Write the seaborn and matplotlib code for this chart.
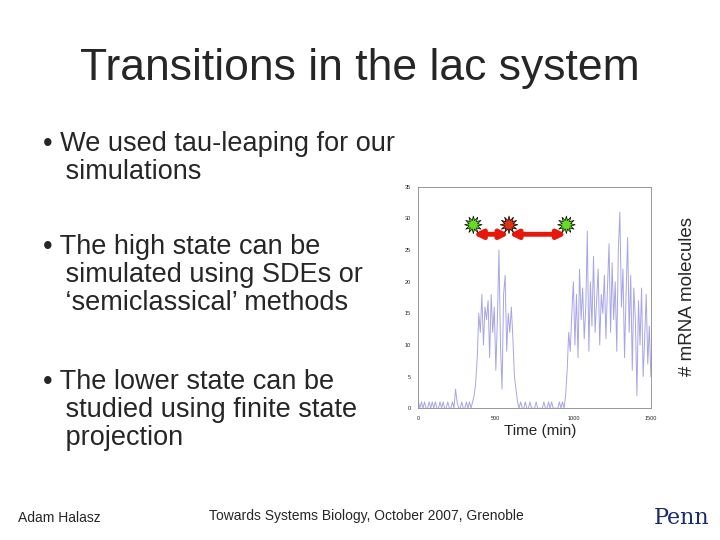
import matplotlib
matplotlib.use('Agg')
import matplotlib.pyplot as plt
import seaborn as sns

# mRNA trace, one sample every 10 min
time_min = list(range(0, 1510, 10))
mrna = [1, 0, 1, 0, 1, 0, 0, 1, 0, 1, 0, 1, 0, 0, 1, 0, 1, 0, 0, 1,
        0, 0, 1, 0, 3, 1, 0, 0, 1, 0, 0, 1, 0, 1, 0, 1, 2, 4, 8, 15,
        12, 18, 10, 16, 14, 17, 8, 18, 12, 16, 6, 14, 25, 10, 3, 18, 21, 9, 15, 12,
        16, 11, 5, 3, 1, 0, 1, 0, 0, 1, 0, 0, 1, 0, 0, 0, 1, 0, 0, 0,
        0, 1, 0, 0, 1, 0, 1, 0, 0, 0, 0, 1, 0, 1, 0, 2, 6, 12, 9, 15,
        20, 10, 18, 8, 22, 14, 19, 11, 16, 28, 9, 20, 13, 24, 12, 17, 22, 10, 18, 15,
        21, 11, 19, 26, 12, 23, 14, 20, 9, 25, 31, 16, 22, 8, 18, 27, 12, 21, 6, 19,
        14, 2, 17, 10, 19, 5, 11, 18, 7, 13, 5]
star_t = [355, 585, 955]
star_colors = ['#66dd22', '#dd3311', '#66dd22']
arrow_spans = [(355, 585), (585, 955)]

sns.set_style('white')
plt.rcParams['font.family'] = ['Liberation Sans', 'DejaVu Sans']
fig = plt.figure(figsize=(7.2, 5.4), dpi=100)

fig.text(0.5, 0.874, 'Transitions in the lac system', ha='center', va='center', fontsize=32)
bullets = [(0.757, '• We used tau-leaping for our\n   simulations'),
           (0.567, '• The high state can be\n   simulated using SDEs or\n   ‘semiclassical’ methods'),
           (0.317, '• The lower state can be\n   studied using finite state\n   projection')]
for y, txt in bullets:
    fig.text(0.06, y, txt, fontsize=19.5, va='top', linespacing=1.1)
fig.text(0.025, 0.033, 'Adam Halasz', fontsize=10)
fig.text(0.29, 0.037, 'Towards Systems Biology, October 2007, Grenoble', fontsize=10)
fig.text(0.985, 0.03, 'Penn', fontsize=16, ha='right', color='#1a2a6c', family='DejaVu Serif')

ax = fig.add_axes([0.581, 0.244, 0.323, 0.41])
sns.lineplot(x=time_min, y=mrna, ax=ax, color='#6a6ad8', linewidth=0.7, alpha=0.6)
ax.set_xlim(0, 1500)
ax.set_ylim(0, 35)
ax.set_xticks([0, 500, 1000, 1500])
ax.set_yticks(range(0, 40, 5))
ax.tick_params(labelsize=4, length=2)
for s in ax.spines.values():
    s.set_color('#888888')
    s.set_linewidth(0.6)
for (a, b) in arrow_spans:
    ax.annotate('', xy=(b, 27.5), xytext=(a, 27.5),
                arrowprops=dict(arrowstyle='<|-|>', color='#e8170c', lw=3.5,
                                mutation_scale=12, shrinkA=0, shrinkB=0))
ax.scatter(star_t, [29] * 3, s=160, marker=(12, 1, 0), c=star_colors,
           edgecolors='black', linewidths=0.5, zorder=5)

fig.text(0.75, 0.195, 'Time (min)', fontsize=11, ha='center')
fig.text(0.955, 0.45, '# mRNA molecules', fontsize=13.5, rotation=90, va='center', ha='center')

fig.savefig('out.png', dpi=100)
